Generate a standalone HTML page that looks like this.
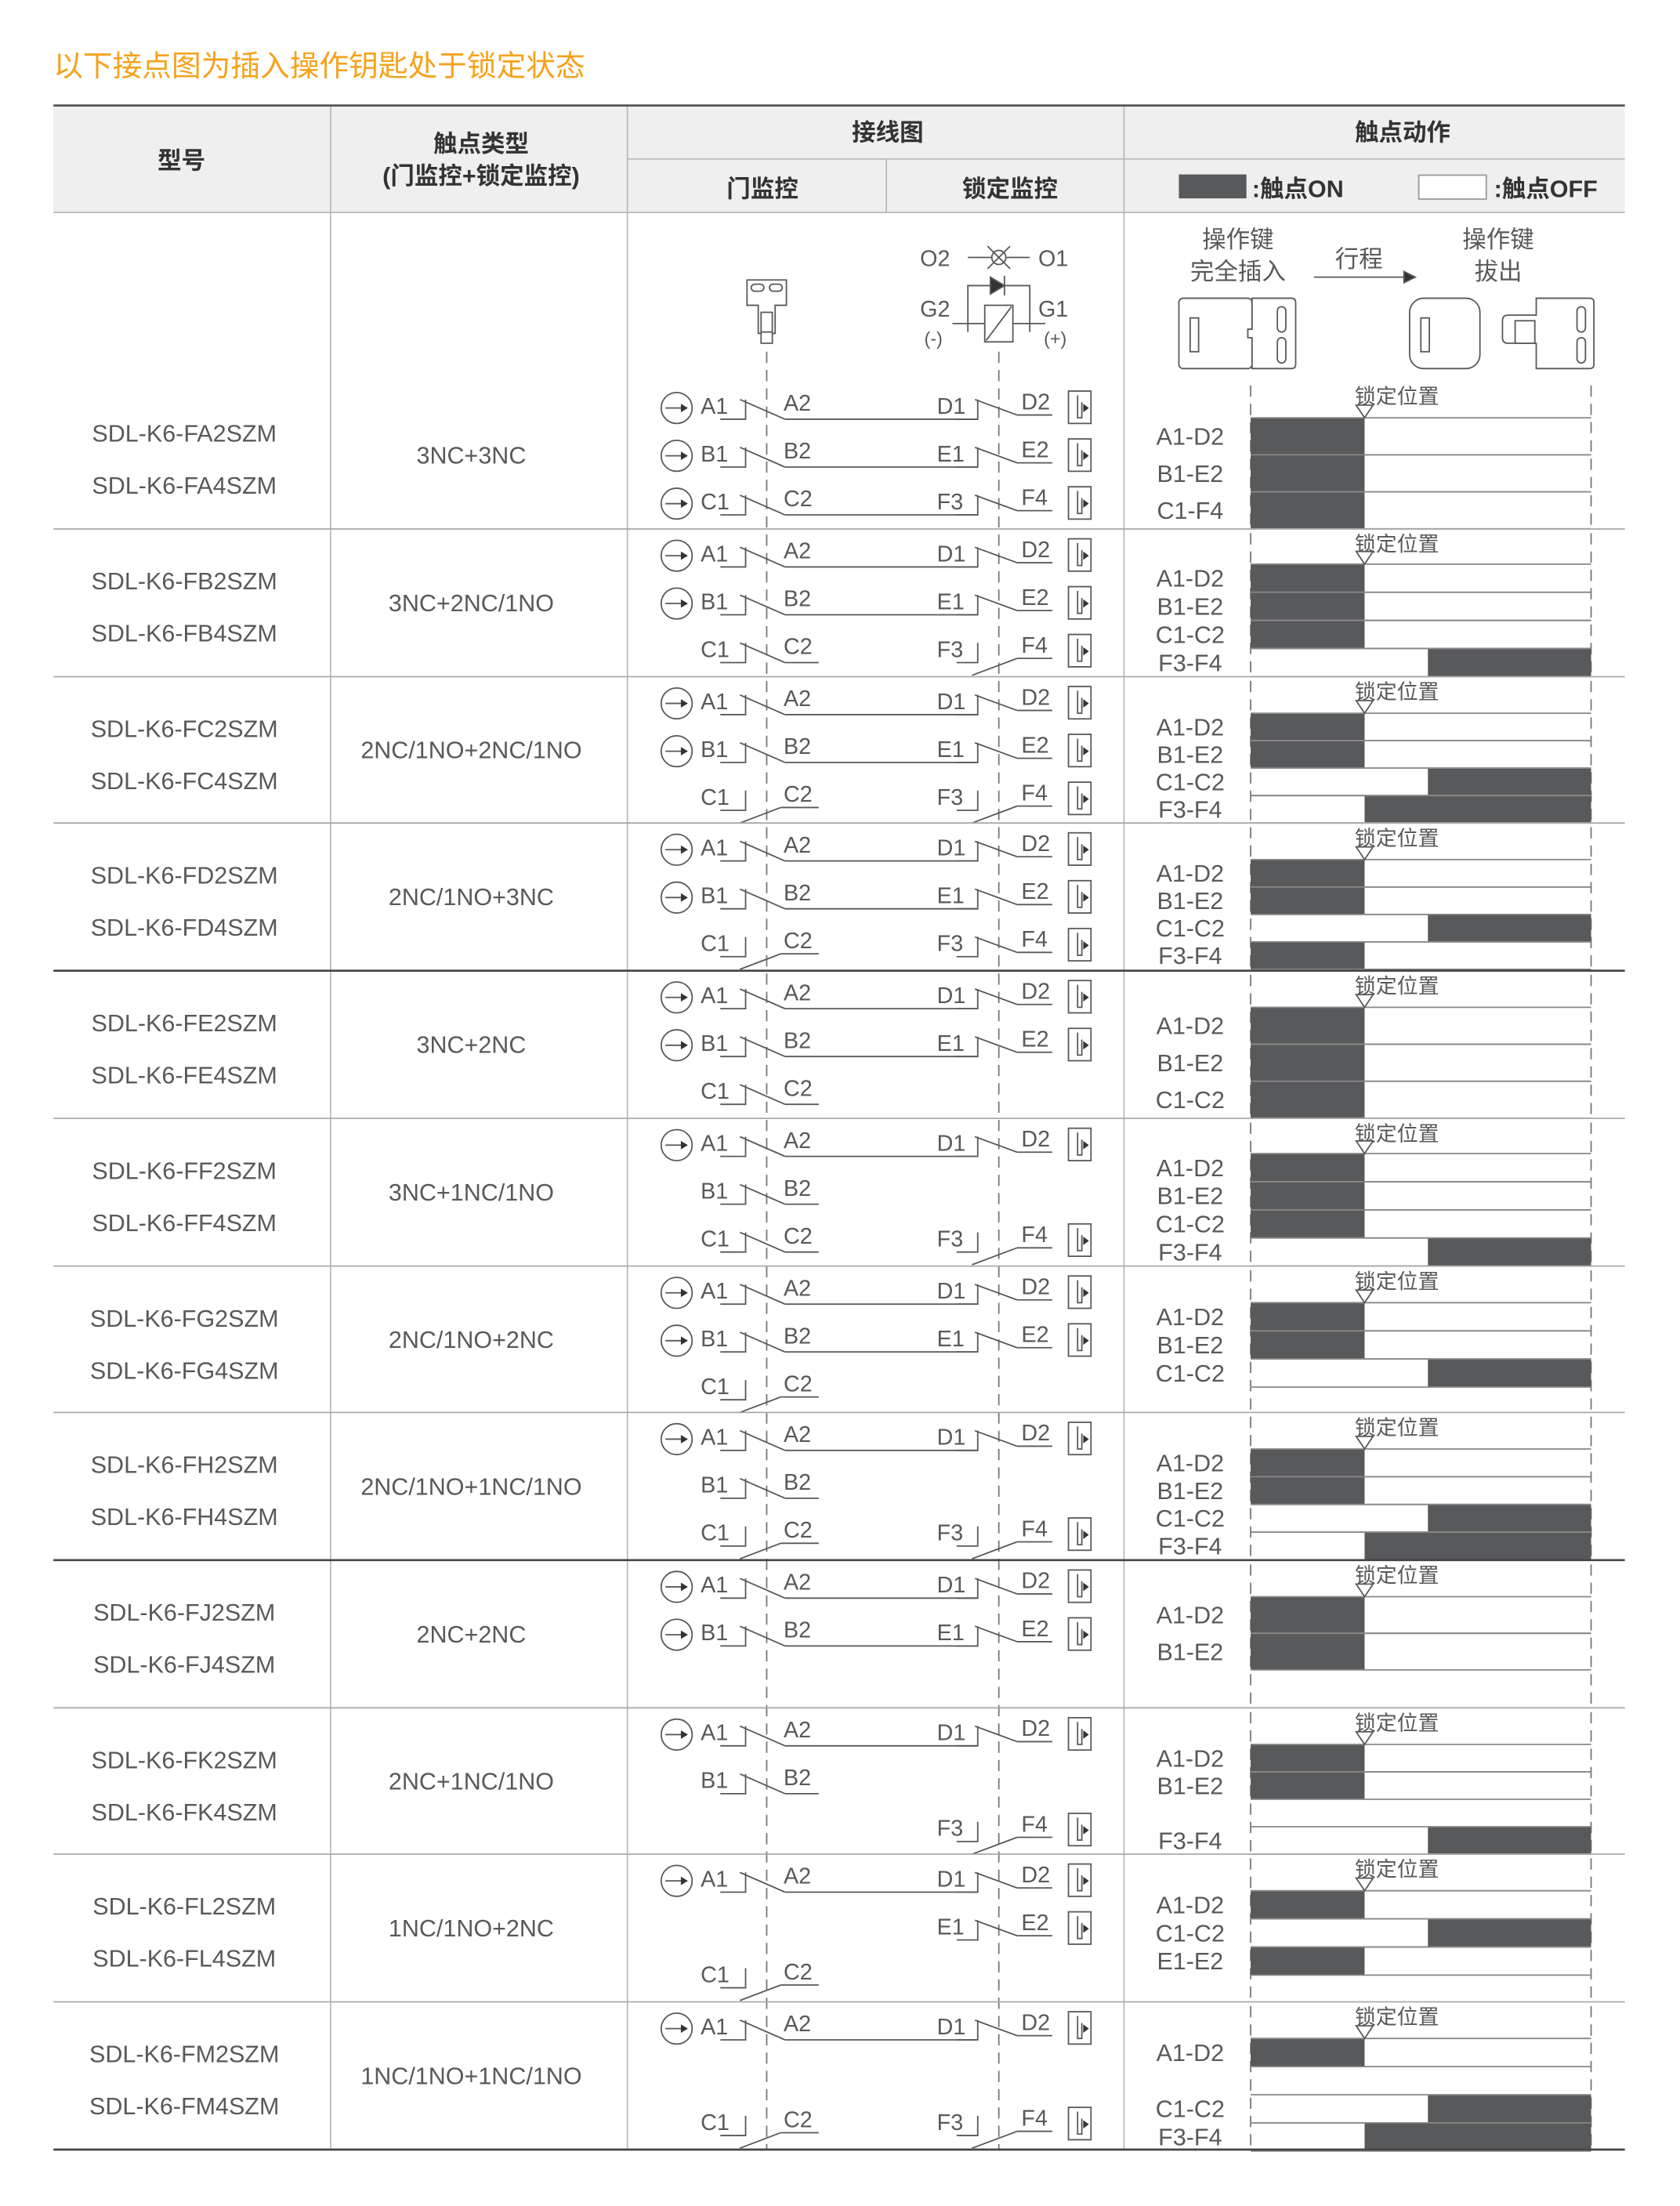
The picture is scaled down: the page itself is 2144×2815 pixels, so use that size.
<!DOCTYPE html>
<html><head><meta charset="utf-8">
<style>
html,body{margin:0;padding:0;background:#fff;}
svg{display:block;}
text{font-family:"Liberation Sans","Noto Sans CJK SC",sans-serif;fill:#58595b;}
</style></head>
<body>
<svg id="s" xmlns="http://www.w3.org/2000/svg" width="2144" height="2815" viewBox="0 0 1194.2 1568.1" preserveAspectRatio="none">
<rect x="0" y="0" width="1195" height="1570" fill="#fff"/>
<text x="38" y="54" font-size="21" style="fill:#f5a21b">以下接点图为插入操作钥匙处于锁定状态</text>
<rect x="38" y="75" width="1117" height="76" fill="#efefef"/>
<g id="hdr" font-weight="bold">
<text x="129" y="120" font-size="17" text-anchor="middle" style="fill:#333">型号</text>
<text x="342" y="108" font-size="17" text-anchor="middle" style="fill:#333">触点类型</text>
<text x="342" y="131" font-size="17" text-anchor="middle" style="fill:#333">(门监控+锁定监控)</text>
<text x="631" y="100" font-size="17" text-anchor="middle" style="fill:#333">接线图</text>
<text x="997" y="100" font-size="17" text-anchor="middle" style="fill:#333">触点动作</text>
<text x="542" y="140" font-size="17" text-anchor="middle" style="fill:#333">门监控</text>
<text x="718" y="140" font-size="17" text-anchor="middle" style="fill:#333">锁定监控</text>
<text x="890" y="140" font-size="17" style="fill:#333">:触点ON</text>
<text x="1062" y="140" font-size="17" style="fill:#333">:触点OFF</text>
</g>
<rect x="838" y="124" width="48" height="17" fill="#58595b"/>
<rect x="1008.5" y="124.5" width="48" height="17" fill="#fff" stroke="#999"/>
<g stroke="#bbb" stroke-width="1" fill="none">
<line x1="446" y1="113" x2="1155" y2="113"/>
<line x1="630" y1="113" x2="630" y2="151"/>
<line x1="235" y1="75" x2="235" y2="1528"/>
<line x1="446" y1="75" x2="446" y2="1528"/>
<line x1="799" y1="75" x2="799" y2="1528"/>
<line x1="38" y1="151" x2="1155" y2="151"/>
</g>
<line x1="38" y1="75" x2="1155" y2="75" stroke="#555" stroke-width="1.5"/>
<g stroke="#58595b" fill="#fff" stroke-width="1">
<path d="M531,199 h28 v18 h-8 v20 h-2 v7 h-8 v-7 h-2 v-20 h-8 z"/>
<rect x="534" y="202" width="9" height="5" rx="2.5"/>
<rect x="547" y="202" width="9" height="5" rx="2.5"/>
<rect x="541" y="222" width="8" height="14"/>
<line x1="545" y1="250" x2="545" y2="1528" stroke-dasharray="8,5" stroke="#777"/>
<line x1="710" y1="250" x2="710" y2="1528" stroke-dasharray="8,5" stroke="#777"/>
<line x1="688" y1="183" x2="732" y2="183"/>
<circle cx="710" cy="183" r="5"/>
<line x1="702" y1="175" x2="718" y2="191"/><line x1="718" y1="175" x2="702" y2="191"/>
<path d="M688,236 V203 H732 V236" fill="none"/>
<path d="M704,197 L714,203 L704,209 Z" fill="#333"/>
<line x1="714" y1="196" x2="714" y2="210"/>
<rect x="700" y="217" width="20" height="26"/>
<line x1="701" y1="242" x2="719" y2="218"/>
<line x1="677" y1="230" x2="700" y2="230"/><line x1="720" y1="230" x2="743" y2="230"/>
<rect x="838" y="212" width="52" height="50" rx="3"/>
<rect x="846" y="226" width="6" height="24"/>
<path d="M890,212 h28 q3,0 3,3 v44 q0,3 -3,3 h-28 v-22 h-3 v-6 h3 z"/>
<rect x="908" y="218" width="6" height="18" rx="3"/><rect x="908" y="240" width="6" height="18" rx="3"/>
<rect x="1002" y="212" width="50" height="50" rx="10"/>
<rect x="1010" y="226" width="6" height="24"/>
<path d="M1092,212 h38 q3,0 3,3 v44 q0,3 -3,3 h-38 v-18 h-20 q-4,0 -4,-4 v-12 q0,-4 4,-4 h20 z"/>
<rect x="1077" y="228" width="14" height="16"/>
<rect x="1121" y="218" width="6" height="18" rx="3"/><rect x="1121" y="240" width="6" height="18" rx="3"/>
<line x1="934" y1="197" x2="998" y2="197"/>
<path d="M998,193 L1006,197 L998,201 Z" fill="#333"/>
</g>
<g font-size="16">
<text x="654" y="189">O2</text><text x="738" y="189">O1</text>
<text x="654" y="225">G2</text><text x="738" y="225">G1</text>
<text x="657" y="245" font-size="13">(-)</text><text x="742" y="245" font-size="13">(+)</text>
<text x="880" y="176" text-anchor="middle" font-size="17">操作键</text>
<text x="880" y="199" text-anchor="middle" font-size="17">完全插入</text>
<text x="966" y="190" text-anchor="middle" font-size="17">行程</text>
<text x="1065" y="176" text-anchor="middle" font-size="17">操作键</text>
<text x="1065" y="199" text-anchor="middle" font-size="17">拔出</text>
</g>
<g id="body"></g>
</svg>
<script>
var NS="http://www.w3.org/2000/svg",B=document.getElementById('body');
function el(t,a,tx){var e=document.createElementNS(NS,t);for(var k in a)e.setAttribute(k,a[k]);if(tx!=null)e.textContent=tx;B.appendChild(e);return e;}
function ln(x1,y1,x2,y2,c,w){return el('line',{x1:x1,y1:y1,x2:x2,y2:y2,stroke:c||'#58595b','stroke-width':w||1});}
function pth(d){el('path',{d:d,stroke:'#58595b',fill:'none','stroke-width':1});}
function tx(x,y,s,sz,anc){el('text',{x:x,y:y,'font-size':sz||16,'text-anchor':anc||'start'},s);}
var tops=[271,376,481,585,690,795,900,1004,1109,1214,1318,1423,1528];
var rows=[
 ['SDL-K6-FA2SZM','SDL-K6-FA4SZM','3NC+3NC',[['nc','nc',1],['nc','nc',1],['nc','nc',1]],{s:26,h:26.3,b:[[0,'A1-D2','L'],[1,'B1-E2','L'],[2,'C1-F4','L']]}],
 ['SDL-K6-FB2SZM','SDL-K6-FB4SZM','3NC+2NC/1NO',[['nc','nc',1],['nc','nc',1],['nc','no']],{s:25,h:20,b:[[0,'A1-D2','L'],[1,'B1-E2','L'],[2,'C1-C2','L'],[3,'F3-F4','R']]}],
 ['SDL-K6-FC2SZM','SDL-K6-FC4SZM','2NC/1NO+2NC/1NO',[['nc','nc',1],['nc','nc',1],['no','no']],{s:26,h:19.5,b:[[0,'A1-D2','L'],[1,'B1-E2','L'],[2,'C1-C2','R'],[3,'F3-F4','M']]}],
 ['SDL-K6-FD2SZM','SDL-K6-FD4SZM','2NC/1NO+3NC',[['nc','nc',1],['nc','nc',1],['no','nc']],{s:26,h:19.5,b:[[0,'A1-D2','L'],[1,'B1-E2','L'],[2,'C1-C2','R'],[3,'F3-F4','L']]}],
 ['SDL-K6-FE2SZM','SDL-K6-FE4SZM','3NC+2NC',[['nc','nc',1],['nc','nc',1],['nc',null]],{s:26,h:26.3,b:[[0,'A1-D2','L'],[1,'B1-E2','L'],[2,'C1-C2','L']]}],
 ['SDL-K6-FF2SZM','SDL-K6-FF4SZM','3NC+1NC/1NO',[['nc','nc',1],['nc',null],['nc','no']],{s:25,h:20,b:[[0,'A1-D2','L'],[1,'B1-E2','L'],[2,'C1-C2','L'],[3,'F3-F4','R']]}],
 ['SDL-K6-FG2SZM','SDL-K6-FG4SZM','2NC/1NO+2NC',[['nc','nc',1],['nc','nc',1],['no',null]],{s:26,h:20,b:[[0,'A1-D2','L'],[1,'B1-E2','L'],[2,'C1-C2','R']]}],
 ['SDL-K6-FH2SZM','SDL-K6-FH4SZM','2NC/1NO+1NC/1NO',[['nc','nc',1],['nc',null],['no','no']],{s:26,h:19.7,b:[[0,'A1-D2','L'],[1,'B1-E2','L'],[2,'C1-C2','R'],[3,'F3-F4','M']]}],
 ['SDL-K6-FJ2SZM','SDL-K6-FJ4SZM','2NC+2NC',[['nc','nc',1],['nc','nc',1],[null,null]],{s:26,h:26,b:[[0,'A1-D2','L'],[1,'B1-E2','L']]}],
 ['SDL-K6-FK2SZM','SDL-K6-FK4SZM','2NC+1NC/1NO',[['nc','nc',1],['nc',null],[null,'no']],{s:26,h:19.5,b:[[0,'A1-D2','L'],[1,'B1-E2','L'],[3,'F3-F4','R']]}],
 ['SDL-K6-FL2SZM','SDL-K6-FL4SZM','1NC/1NO+2NC',[['nc','nc',1],[null,'nc'],['no',null]],{s:26,h:20,b:[[0,'A1-D2','L'],[1,'C1-C2','R'],[2,'E1-E2','L']]}],
 ['SDL-K6-FM2SZM','SDL-K6-FM4SZM','1NC/1NO+1NC/1NO',[['nc','nc',1],[null,null],['no','no']],{s:26,h:20,b:[[0,'A1-D2','L'],[2,'C1-C2','R'],[3,'F3-F4','M']]}]
];
var LET=[['A1','A2','D1','D2'],['B1','B2','E1','E2'],['C1','C2','F3','F4']];
rows.forEach(function(r,ri){
 var T=tops[ri],Bt=tops[ri+1],C=(T+Bt)/2;
 tx(131,T+43,r[0],17,'middle');tx(131,T+80,r[1],17,'middle');
 tx(335,C+6,r[2],17,'middle');
 r[3].forEach(function(s,i){
  var L=T+27+34*i,lt=LET[i];
  if(s[0]){
   tx(498,L-4,lt[0]);tx(557,L-6,lt[1]);
   pth('M512,'+L+' H530 V'+(L-14));
   if(s[0]=='nc'){ln(526,L-14,558,L);ln(558,L,s[2]?695:582,L);}
   else{ln(526,L+9,555,L-2);ln(555,L-2,582,L-2);}
  }
  if(s[2]){el('circle',{cx:481,cy:L-8,r:11,fill:'#fff',stroke:'#58595b'});ln(473,L-8,487,L-8);el('path',{d:'M484,'+(L-11)+' L489,'+(L-8)+' L484,'+(L-5)+'Z',fill:'#333'});}
  if(s[1]){
   tx(666,L-4,lt[2]);tx(726,L-7,lt[3]);
   pth('M680,'+L+' H695 V'+(L-14));
   if(s[1]=='nc')ln(693,L-14,723,L-3);else ln(691,L+9,723,L-3);
   ln(723,L-3,748,L-3);
   el('rect',{x:759.5,y:L-20,width:16,height:23,fill:'#fff',stroke:'#58595b'});
   pth('M766,'+(L-17)+' V'+(L-1)+' H769 V'+(L-12));
   el('path',{d:'M770,'+(L-11)+' L774,'+(L-8)+' L770,'+(L-5)+'Z',fill:'#333'});
  }
 });
 ln(889,T+3,889,Bt,'#777').setAttribute('stroke-dasharray','8,5');
 ln(1131,T+3,1131,Bt,'#777').setAttribute('stroke-dasharray','8,5');
 var c=r[4];
 tx(993,T+16,'锁定位置',15,'middle');
 c.b.forEach(function(b){
  var y=T+c.s+b[0]*c.h,h=c.h;
  var x0=b[2]=='L'?889:(b[2]=='R'?1015:970),x1=b[2]=='L'?970:1131;
  el('rect',{x:x0,y:y,width:x1-x0,height:h,fill:'#58595b'});
  ln(889,y,1131,y,'#888');ln(889,y+h,1131,y+h,'#888');
  tx(846,y+h/2+6,b[1],17,'middle');
 });
 el('path',{d:'M964,'+(T+c.s-9)+' L976,'+(T+c.s-9)+' L970,'+(T+c.s)+'Z',fill:'#fff',stroke:'#58595b'});
 var heavy=(Bt==690||Bt==1109||Bt==1528);
 ln(38,Bt,1155,Bt,heavy?'#444':'#aaa',heavy?1.5:1);
});
</script>
</body></html>
